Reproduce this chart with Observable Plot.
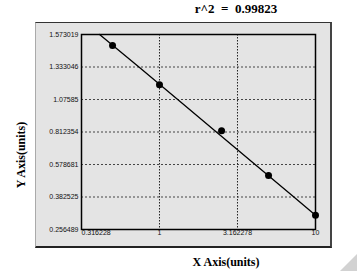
<!DOCTYPE html>
<html>
<head>
<meta charset="utf-8">
<script src="https://cdn.jsdelivr.net/npm/d3@7"></script>
<script src="https://cdn.jsdelivr.net/npm/@observablehq/plot@0.6"></script>
<style>
  html, body { margin: 0; padding: 0; background: #fff; }
  #wrap { position: relative; width: 357px; height: 271px; overflow: hidden; }
  #panel { position: absolute; left: 35px; top: 22px; width: 294px; height: 223px;
    background: #e4e4e4; border-top: 1px solid #333; border-left: 1px solid #aaa;
    border-right: 2px solid #444; border-bottom: 2px solid #222; }
  #chart { position: absolute; left: 0; top: 0; }
  .ttl { position: absolute; font-family: "Liberation Serif", "Times New Roman", serif;
    font-weight: bold; color: #000; white-space: pre; }
  #title { left: 236px; top: 9px; font-size: 13px; transform: translate(-50%, -50%); }
  #xtitle { left: 226px; top: 262px; font-size: 12px; transform: translate(-50%, -50%); }
  #ytitle { left: 20.5px; top: 155px; font-size: 12px; transform: translate(-50%, -50%) rotate(-90deg); }
  #grip { position: absolute; right: 0; bottom: 0; width: 0; height: 0;
    border-left: 17px solid transparent; border-bottom: 17px solid #d2d2d2; }
</style>
</head>
<body>
<div id="wrap">
  <div id="panel"></div>
  <div id="chart"></div>
  <div id="title" class="ttl">r^2  =  0.99823</div>
  <div id="ytitle" class="ttl">Y Axis(units)</div>
  <div id="xtitle" class="ttl">X Axis(units)</div>
  <div id="grip"></div>
</div>
<script>
// Tick values and labels
const xTicks = [0.316228, 1, 3.162278, 10];
const xTickLabels = ["0.316228", "1", "3.162278", "10"];
const yTicks = [0.256489, 0.382525, 0.578681, 0.812354, 1.07585, 1.333046, 1.573019];
const yTickLabels = ["0.256489", "0.382525", "0.578681", "0.812354", "1.07585", "1.333046", "1.573019"];

// Standard points
const pointX = [0.5, 1, 2.5, 5, 10];
const pointY = [1.491, 1.192, 0.823, 0.513, 0.312];

// Fitted line
const fitX = [0.413, 0.738, 1.308, 2.315, 4.10, 7.27, 10];
const fitY = [1.573019, 1.333046, 1.07585, 0.812354, 0.578681, 0.382525, 0.312];

const points = pointX.map((x, i) => ({x, y: pointY[i]}));
const fit = fitX.map((x, i) => ({x, y: fitY[i]}));
const xLab = new Map(xTicks.map((t, i) => [t, xTickLabels[i]]));
const yLab = new Map(yTicks.map((t, i) => [t, yTickLabels[i]]));

const font = {fontSize: 7, fontFamily: "'Liberation Sans', Arial, sans-serif", fill: "#111"};

const chart = Plot.plot({
  width: 357,
  height: 271,
  marginLeft: 81,
  marginRight: 42,
  marginTop: 34,
  marginBottom: 42,
  style: {background: "transparent", overflow: "visible"},
  x: {type: "log", domain: [0.316228, 10]},
  y: {type: "linear", domain: yTicks},
  marks: [
    Plot.gridX({ticks: xTicks.slice(1, 3), stroke: "#222", strokeOpacity: 1, strokeDasharray: "1.5,1.5"}),
    Plot.gridY({ticks: yTicks.slice(1, 6), stroke: "#333", strokeOpacity: 0.9, strokeDasharray: "2,2"}),
    Plot.axisY({ticks: yTicks, tickSize: 0, tickPadding: 3, tickFormat: d => yLab.get(d), label: null, ...font}),
    Plot.axisX({ticks: xTicks.slice(0, 1), tickSize: 0, tickPadding: 1, textAnchor: "start", tickFormat: d => xLab.get(d), label: null, ...font}),
    Plot.axisX({ticks: xTicks.slice(1), tickSize: 0, tickPadding: 1, tickFormat: d => xLab.get(d), label: null, ...font}),
    Plot.frame({stroke: "#000", strokeWidth: 1.5}),
    Plot.line(fit, {x: "x", y: "y", stroke: "#000", strokeWidth: 1.3}),
    Plot.dot(points, {x: "x", y: "y", r: 3.5, fill: "#000", stroke: "none"})
  ]
});
document.getElementById("chart").appendChild(chart);
</script>
</body>
</html>
